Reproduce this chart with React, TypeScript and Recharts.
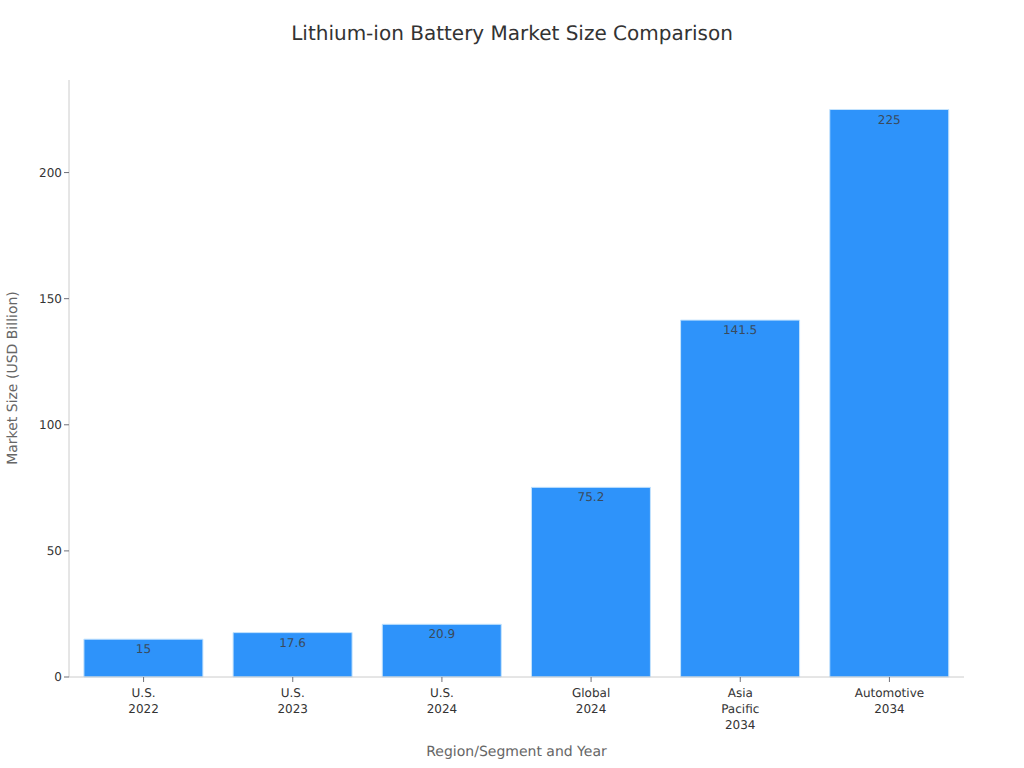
import React from "react";
import { BarChart, Bar, XAxis, YAxis, LabelList } from "recharts";

const categories = ["U.S.\n2022", "U.S.\n2023", "U.S.\n2024", "Global\n2024", "Asia\nPacific\n2034", "Automotive\n2034"];
const values = [15, 17.6, 20.9, 75.2, 141.5, 225];
const yTicks = [0, 50, 100, 150, 200];
const titleText = "Lithium-ion Battery Market Size Comparison";
const xTitle = "Region/Segment and Year";
const yTitle = "Market Size (USD Billion)";

const data = categories.map((name, i) => ({ name, value: values[i] }));
const FONT = "'DejaVu Sans', sans-serif";

function XTick(props: any) {
  const { x, y, payload } = props;
  const lines = String(payload.value).split("\n");
  return (
    <text x={x} y={y} textAnchor="middle" fontSize={12} fontFamily={FONT} fill="#333">
      {lines.map((l: string, i: number) => (
        <tspan key={i} x={x} dy={i === 0 ? 13 : 16}>{l}</tspan>
      ))}
    </text>
  );
}

function YTitle() {
  return (
    <text x={13} y={378} transform="rotate(-90 13 378)" textAnchor="middle" dominantBaseline="central" fill="#666" fontSize={14} fontFamily={FONT}>
      {yTitle}
    </text>
  );
}

export default function App() {
  return (
    <div style={{ position: "absolute", left: 0, top: 0, width: 1024, height: 768, background: "#fff", textRendering: "geometricPrecision" }}>
      <div style={{ position: "absolute", left: 0, top: 20, width: 1024, textAlign: "center", fontFamily: FONT, fontSize: 20, lineHeight: "26px", color: "#333" }}>
        {titleText}
      </div>
      <BarChart
        width={1024}
        height={768}
        data={data}
        margin={{ top: 80, right: 60, bottom: 31, left: 9 }}
        barCategoryGap="10%"
      >
        <XAxis
          dataKey="name"
          interval={0}
          height={60}
          tick={<XTick />}
          tickSize={5}
          stroke="#ccc"
          tickLine={{ stroke: "#6e7079" }}
          label={{ value: xTitle, position: "insideBottom", offset: -19, fill: "#666", fontSize: 14, fontFamily: FONT }}
        />
        <YAxis
          type="number"
          domain={[0, 236.7]}
          ticks={yTicks}
          width={60}
          tickSize={5}
          stroke="#ccc"
          tickLine={{ stroke: "#6e7079" }}
          tick={{ fill: "#333", fontSize: 12, fontFamily: FONT }}
          label={<YTitle />}
        />
        <Bar dataKey="value" fill="#2e93fa" stroke="#c4e3fd" strokeWidth={1} isAnimationActive={false}>
          <LabelList dataKey="value" position="insideTop" offset={5.5} fill="#3a4a5c" fontSize={12} fontFamily={FONT} />
        </Bar>
      </BarChart>
    </div>
  );
}
